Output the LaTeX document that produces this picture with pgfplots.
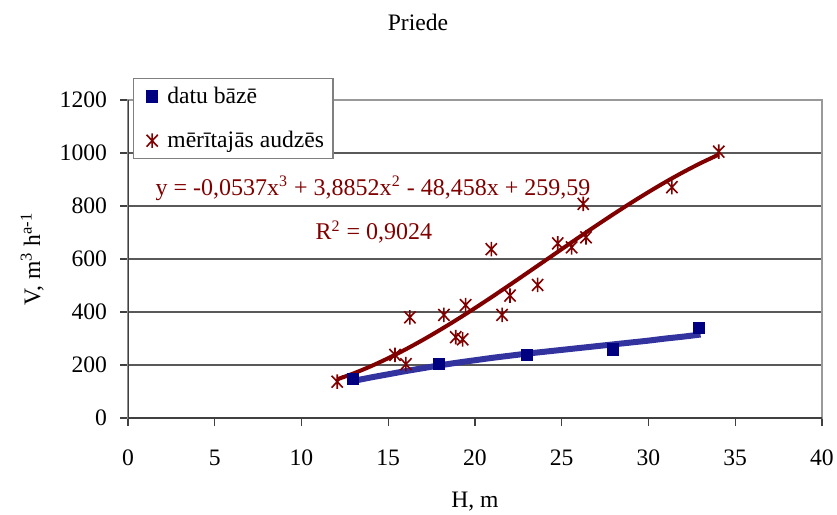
\documentclass[border=0pt]{standalone}
\usepackage{fontspec}
\setmainfont{Liberation Serif}
\usepackage{pgfplots}
\pgfplotsset{compat=1.18}
\definecolor{dred}{HTML}{800000}
\definecolor{dblue}{HTML}{000080}
\definecolor{lblue}{HTML}{3333A0}
\pgfdeclareplotmark{xstar}{%
  \pgfpathmoveto{\pgfqpoint{0pt}{-1.1\pgfplotmarksize}}%
  \pgfpathlineto{\pgfqpoint{0pt}{1.1\pgfplotmarksize}}%
  \pgfpathmoveto{\pgfqpoint{-0.85\pgfplotmarksize}{-0.9\pgfplotmarksize}}%
  \pgfpathlineto{\pgfqpoint{0.85\pgfplotmarksize}{0.9\pgfplotmarksize}}%
  \pgfpathmoveto{\pgfqpoint{-0.85\pgfplotmarksize}{0.9\pgfplotmarksize}}%
  \pgfpathlineto{\pgfqpoint{0.85\pgfplotmarksize}{-0.9\pgfplotmarksize}}%
  \pgfusepathqstroke}
\begin{document}
\begin{tikzpicture}[font=\fontsize{11.8}{14}\selectfont]
\path[use as bounding box] (-64pt,-48.5pt) rectangle (354.5pt,209pt);
\begin{axis}[
  at={(0,0)}, anchor=origin,
  scale only axis, width=347pt, height=159pt,
  xmin=0, xmax=40, ymin=0, ymax=1200,
  xtick={0,5,...,40}, ytick={0,200,...,1200},
  tick align=outside, xtick pos=left, ytick pos=left,
  major tick length=4pt,
  tick style={black!75, line width=0.6pt},
  axis line style={draw=black!40, line width=0.6pt},
  ymajorgrids, grid style={black!65, line width=0.6pt},
  /pgf/number format/assume math mode=true,
  scaled y ticks=false,
  yticklabel style={/pgf/number format/1000 sep={}, xshift=-3pt},
  xticklabel style={yshift=-8.5pt},
  xlabel={H, m},
  ylabel={V, m\textsuperscript{3} h\textsuperscript{a-1}},
  xlabel style={at={(axis description cs:0.5,-0.264)}, anchor=center},
  ylabel style={at={(axis description cs:-0.138,0.5)}, anchor=center},
  legend style={at={(axis description cs:0.0072,1.069)}, anchor=north west,
    draw=black!50, line width=0.6pt, fill=white, row sep=8.5pt,
    inner xsep=2.5pt, inner ysep=2pt, font=\fontsize{11.8}{14}\selectfont},
  legend cell align=left,
  legend image code/.code={\path (0pt,0pt) (11.8pt,0pt); \draw[#1] plot coordinates {(6.5pt,0pt)};},
]
\addplot[only marks, mark=square*, mark size=2.8pt, color=dblue] coordinates {
 (12.95,147) (17.93,204) (23.01,238) (27.97,259) (32.89,341)};
\addlegendentry{datu bāzē}
\addplot[only marks, mark=xstar, mark size=3.3pt, color=dred, mark options={line width=0.8pt}] coordinates {
 (12.06,137) (15.39,238) (16.02,203) (16.25,380) (18.21,389) (18.89,305)
 (19.29,297) (19.46,426) (20.94,637) (21.56,389) (22.02,462) (23.61,502)
 (24.77,659) (25.57,644) (26.24,808) (26.40,682) (31.35,871) (34.05,1005)};
\addlegendentry{mērītajās audzēs}
\addplot[forget plot, color=lblue, line width=3pt, smooth] coordinates {
 (13,140) (14,153) (15,165) (16,177) (17,188) (18,199) (19,209) (20,218)
 (21,227) (22,235) (23,243) (24,250) (25,257) (26,264) (27,271) (28,278)
 (29,285) (30,292) (31,300) (32,307) (33,315)};
\addplot[forget plot, color=dred, line width=2pt, smooth] coordinates {
 (12.06,146) (13,168.3) (14,195.3) (15,225.7) (16,258.9) (17,294.8) (18,333.0)
 (19,373.1) (20,414.9) (21,458.0) (22,502.2) (23,547.0) (24,592.1) (25,637.3)
 (26,682.3) (27,726.6) (28,770.0) (29,812.1) (30,852.6) (31,891.3) (32,927.7)
 (33,961.6) (34.05,994)};
\draw[black!75, line width=0.6pt] (rel axis cs:0,1) -- (rel axis cs:0,0) -- (rel axis cs:1,0);
\end{axis}
\node at (145pt,198pt) {Priede};
\node[text=dred, font=\fontsize{12}{14}\selectfont] at (122.5pt,115pt) {y = -0,0537x\textsuperscript{3} + 3,8852x\textsuperscript{2} - 48,458x + 259,59};
\node[text=dred, font=\fontsize{12}{14}\selectfont] at (123pt,93pt) {R\textsuperscript{2} = 0,9024};
\end{tikzpicture}
\end{document}
